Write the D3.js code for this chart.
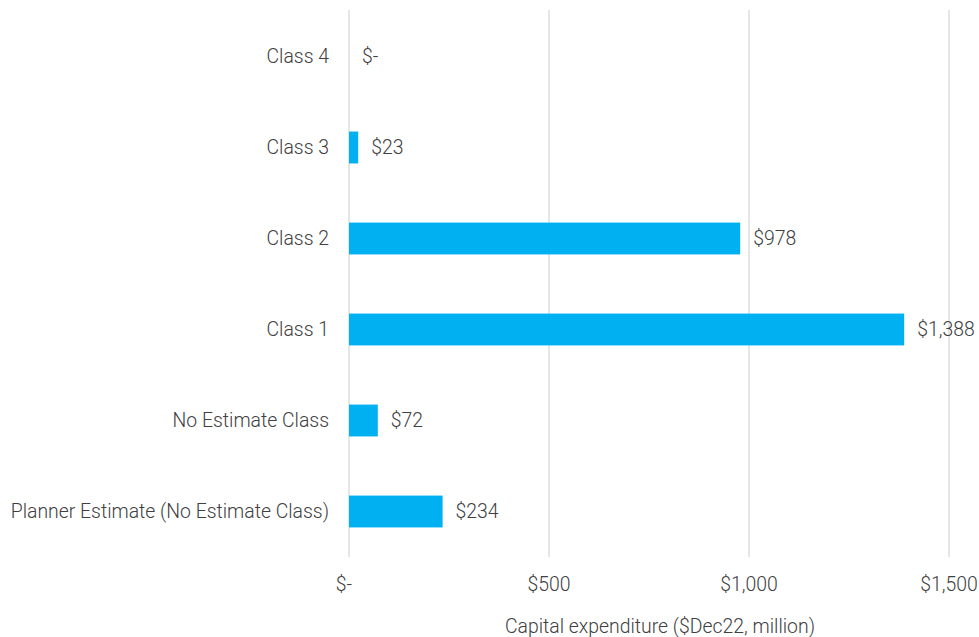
<!DOCTYPE html>
<html>
<head>
<meta charset="utf-8">
<script src="https://cdn.jsdelivr.net/npm/d3@7"></script>
<style>
  html, body { margin: 0; padding: 0; background: #fff; }
  svg text { font-family: Roboto, "Open Sans", sans-serif; font-weight: 300; fill: #404040; }
</style>
</head>
<body>
<svg id="chart" width="979" height="637"></svg>
<script>
// Capital expenditure by estimate class ($Dec22, million)
const categories = ["Class 4", "Class 3", "Class 2", "Class 1", "No Estimate Class", "Planner Estimate (No Estimate Class)"];
const values = [0, 23, 978, 1388, 72, 234];
const tickValues = [0, 500, 1000, 1500];
const axisTitle = "Capital expenditure ($Dec22, million)";

const fmt = v => v === 0 ? "$-" : "$" + d3.format(",")(v);
const fontSize = 19.4;

const svg = d3.select("#chart");
const margin = { left: 349, top: 11 };

const x = d3.scaleLinear().domain([0, 1500]).range([margin.left, 949]);
const y = d3.scaleBand().domain(categories).range([margin.top, 557])
  .paddingInner(0.65).paddingOuter(0.325);

// vertical gridlines
svg.append("g").selectAll("line").data(tickValues).join("line")
  .attr("x1", d => x(d)).attr("x2", d => x(d))
  .attr("y1", 10).attr("y2", 557)
  .attr("stroke", "#d9d9d9").attr("stroke-width", 1.3);

// bars
svg.append("g").selectAll("rect").data(values).join("rect")
  .attr("x", x(0))
  .attr("y", (d, i) => y(categories[i]))
  .attr("width", d => x(d) - x(0))
  .attr("height", y.bandwidth())
  .attr("fill", "#00b0f0");

// value labels
svg.append("g").selectAll("text").data(values).join("text")
  .attr("x", d => x(d) + 13)
  .attr("y", (d, i) => y(categories[i]) + y.bandwidth() / 2)
  .attr("dy", "0.35em")
  .attr("font-size", fontSize)
  .text(d => fmt(d));

// category labels
svg.append("g").selectAll("text").data(categories).join("text")
  .attr("x", x(0) - 20)
  .attr("y", d => y(d) + y.bandwidth() / 2)
  .attr("dy", "0.35em")
  .attr("text-anchor", "end")
  .attr("font-size", fontSize)
  .text(d => d);

// x tick labels
svg.append("g").selectAll("text").data(tickValues).join("text")
  .attr("x", d => x(d) - (d === 0 ? 5 : 0))
  .attr("y", 584)
  .attr("dy", "0.35em")
  .attr("text-anchor", "middle")
  .attr("font-size", fontSize)
  .text(d => fmt(d));

// axis title
svg.append("text")
  .attr("x", 660)
  .attr("y", 626)
  .attr("dy", "0.35em")
  .attr("text-anchor", "middle")
  .attr("font-size", fontSize)
  .text(axisTitle);
</script>
</body>
</html>
